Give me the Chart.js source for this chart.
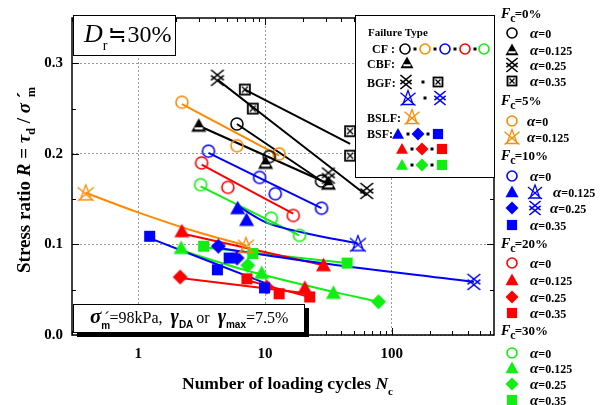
<!DOCTYPE html>
<html>
<head>
<meta charset="UTF-8">
<title>Stress ratio vs number of loading cycles</title>
<script src="https://cdn.jsdelivr.net/npm/chart.js"></script>
<style>
  html, body { margin: 0; padding: 0; background: #fff; }
</style>
</head>
<body>
<canvas id="ratioChart" width="608" height="405"></canvas>
<script>
// tick labels
const xTickVals = [1, 10, 100];
const yTickVals = [0, 0.1, 0.2, 0.3];

// [N_c, stress ratio]; *_fit = fitted curve through them
// Fc = 0%
const fc0_a0 = [[6.0, 0.233], [10.8, 0.197], [27.9, 0.170]];
const fc0_a0_fit = [[6.0, 0.233], [27.9, 0.170]];
const fc0_a125 = [[3.0, 0.231], [10.1, 0.190], [31.6, 0.167]];
const fc0_a125_fit = [[3.0, 0.231], [31.6, 0.167]];
const fc0_a25 = [[4.21, 0.284], [31.6, 0.176], [63.4, 0.159]];
const fc0_a25_fit = [[4.21, 0.282], [63.4, 0.154]];
const fc0_a35 = [[6.93, 0.271], [8.0, 0.250], [46.9, 0.225], [46.9, 0.198]];
const fc0_a35_fit = [[6.93, 0.271], [46.9, 0.211]];
// Fc = 5%
const fc5_a0 = [[2.21, 0.257], [6.01, 0.209], [12.9, 0.200]];
const fc5_a0_fit = [[2.21, 0.255], [12.9, 0.198]];
const fc5_a125 = [[0.385, 0.157], [7.06, 0.099]];
const fc5_a125_fit = [[0.385, 0.157], [0.97, 0.136], [3.2, 0.112], [7.06, 0.099]];
// Fc = 10%
const fc10_a0 = [[3.58, 0.203], [9.06, 0.174], [12.05, 0.156], [27.9, 0.140]];
const fc10_a0_fit = [[3.58, 0.201], [27.9, 0.140]];
const fc10_a125 = [[6.09, 0.140], [7.15, 0.127]];
const fc10_a125_x = [[54, 0.101]];
const fc10_a125_fit = [[6.01, 0.143], [10.3, 0.124], [20.2, 0.113], [54, 0.101]];
const fc10_a25 = [[4.28, 0.098], [6.01, 0.085]];
const fc10_a25_x = [[444, 0.0586]];
const fc10_a25_fit = [[4.28, 0.096], [20.2, 0.082], [444, 0.0586]];
const fc10_a35 = [[1.23, 0.109], [4.21, 0.072], [5.21, 0.085], [9.91, 0.052]];
const fc10_a35_fit = [[1.23, 0.107], [9.91, 0.0575]];
// Fc = 20%
const fc20_a0 = [[3.16, 0.190], [5.09, 0.163], [16.7, 0.132]];
const fc20_a0_fit = [[3.16, 0.188], [16.7, 0.134]];
const fc20_a125 = [[2.21, 0.1145], [20.6, 0.052], [28.9, 0.077]];
const fc20_a125_fit = [[2.21, 0.112], [28.9, 0.077]];
const fc20_a25 = [[2.14, 0.064], [10.3, 0.053]];
const fc20_a25_fit = [[2.14, 0.063], [22.5, 0.0455]];
const fc20_a35 = [[7.19, 0.062], [12.9, 0.0455], [22.5, 0.042]];
const fc20_a35_fit = [[6.93, 0.061], [22.5, 0.042]];
// Fc = 30%
const fc30_a0 = [[3.1, 0.166], [11.2, 0.129], [18.7, 0.110]];
const fc30_a0_fit = [[3.1, 0.164], [18.6, 0.110]];
const fc30_a125 = [[2.18, 0.096], [9.4, 0.0685], [34.6, 0.0465]];
const fc30_a25 = [[7.3, 0.077], [78.6, 0.0367]];
const fc30_a125_fit = [[2.18, 0.0936], [6.93, 0.0717], [34.6, 0.0476], [78.6, 0.0367]];
const fc30_a35 = [[3.28, 0.098], [8.0, 0.090], [44.4, 0.0794]];
const fc30_a35_fit = [[3.28, 0.097], [44.4, 0.0794]];

const K = '#000000', O = '#ff8a00', B = '#0000ff', R = '#ff0000', G = '#11ee11';
const serif = "'Liberation Serif','Times New Roman',serif";
const sans = "'Liberation Sans',Arial,sans-serif";

// draws one marker symbol centred on x,y
function mark(ctx, type, x, y, col, s) {
  const h = s / 2;
  ctx.save();
  ctx.strokeStyle = col;
  ctx.fillStyle = col;
  ctx.lineWidth = 1.6;
  ctx.beginPath();
  if (type === 'circle') {
    ctx.arc(x, y, h - 1, 0, Math.PI * 2);
    ctx.stroke();
  } else if (type === 'tri' || type === 'triW') {
    ctx.moveTo(x, y - h); ctx.lineTo(x + h, y + h * 0.8); ctx.lineTo(x - h, y + h * 0.8);
    ctx.closePath(); ctx.fill();
    if (type === 'triW') {
      ctx.fillStyle = '#fff';
      ctx.fillRect(x - h * 0.55, y + h * 0.2, h * 1.1, h * 0.3);
    }
  } else if (type === 'diamond') {
    ctx.moveTo(x, y - h); ctx.lineTo(x + h, y); ctx.lineTo(x, y + h); ctx.lineTo(x - h, y);
    ctx.closePath(); ctx.fill();
  } else if (type === 'square') {
    ctx.fillRect(x - h * 0.85, y - h * 0.85, h * 1.7, h * 1.7);
  } else if (type === 'triX') {
    ctx.lineWidth = 1.3;
    ctx.moveTo(x, y - h); ctx.lineTo(x + h * 0.7, y + h - 1); ctx.lineTo(x - h * 0.7, y + h - 1); ctx.closePath();
    ctx.moveTo(x - h, y - h * 0.7); ctx.lineTo(x + h, y + h);
    ctx.moveTo(x + h, y - h * 0.7); ctx.lineTo(x - h, y + h);
    ctx.stroke();
  } else if (type === 'dblX') {
    const w = h * 0.8;
    ctx.moveTo(x - w, y - h); ctx.lineTo(x + w, y + h * 0.3);
    ctx.moveTo(x + w, y - h); ctx.lineTo(x - w, y + h * 0.3);
    ctx.moveTo(x - w, y - h * 0.3); ctx.lineTo(x + w, y + h);
    ctx.moveTo(x + w, y - h * 0.3); ctx.lineTo(x - w, y + h);
    ctx.stroke();
  } else if (type === 'boxX') {
    ctx.lineWidth = 1.8;
    ctx.strokeRect(x - h + 1, y - h + 1, s - 2, s - 2);
    ctx.lineWidth = 1.3;
    ctx.moveTo(x - h + 3, y - h + 3); ctx.lineTo(x + h - 3, y + h - 3);
    ctx.moveTo(x + h - 3, y - h + 3); ctx.lineTo(x - h + 3, y + h - 3);
    ctx.stroke();
  }
  ctx.restore();
}

function icon(type, col, s) {
  const c = document.createElement('canvas');
  c.width = c.height = s + 4;
  mark(c.getContext('2d'), type, (s + 4) / 2, (s + 4) / 2, col, s);
  return c;
}

const pts = arr => arr.map(p => ({ x: p[0], y: p[1] }));
const marks = (arr, type, col, s) => ({
  data: pts(arr), showLine: false, pointStyle: icon(type, col, s), pointRadius: s / 2, order: 1
});
const fit = (arr, col) => ({
  data: pts(arr), showLine: true, borderColor: col, borderWidth: 2, pointRadius: 0,
  cubicInterpolationMode: 'monotone', order: 2
});

const datasets = [
  fit(fc0_a0_fit, K), fit(fc0_a125_fit, K), fit(fc0_a25_fit, K), fit(fc0_a35_fit, K),
  fit(fc5_a0_fit, O), fit(fc5_a125_fit, O),
  fit(fc10_a0_fit, B), fit(fc10_a125_fit, B), fit(fc10_a25_fit, B), fit(fc10_a35_fit, B),
  fit(fc20_a0_fit, R), fit(fc20_a125_fit, R), fit(fc20_a25_fit, R), fit(fc20_a35_fit, R),
  fit(fc30_a0_fit, G), fit(fc30_a125_fit, G), fit(fc30_a35_fit, G),
  marks(fc0_a0, 'circle', K, 14), marks(fc0_a125, 'triW', K, 15),
  marks(fc0_a25, 'dblX', K, 16), marks(fc0_a35, 'boxX', K, 12),
  marks(fc5_a0, 'circle', O, 14), marks(fc5_a125, 'triX', O, 16),
  marks(fc10_a0, 'circle', B, 14), marks(fc10_a125, 'tri', B, 15), marks(fc10_a125_x, 'triX', B, 16),
  marks(fc10_a25, 'diamond', B, 15), marks(fc10_a25_x, 'dblX', B, 16), marks(fc10_a35, 'square', B, 13),
  marks(fc20_a0, 'circle', R, 14), marks(fc20_a125, 'tri', R, 15),
  marks(fc20_a25, 'diamond', R, 15), marks(fc20_a35, 'square', R, 13),
  marks(fc30_a0, 'circle', G, 14), marks(fc30_a125, 'tri', G, 15),
  marks(fc30_a25, 'diamond', G, 15), marks(fc30_a35, 'square', G, 13)
];

// draws text pieces side by side, returns end x
function rich(ctx, x, y, segs) {
  segs.forEach(s => {
    ctx.font = s.f;
    ctx.fillText(s.t, x, y + (s.dy || 0));
    x += ctx.measureText(s.t).width + (s.gap || 0);
  });
  return x;
}
function richWidth(ctx, segs) {
  return segs.reduce((w, s) => { ctx.font = s.f; return w + ctx.measureText(s.t).width + (s.gap || 0); }, 0);
}
function dot(ctx, x, y) { ctx.fillStyle = '#000'; ctx.fillRect(x - 1.5, y - 1.5, 3, 3); }

const decor = {
  id: 'decor',
  beforeDraw(chart) {
    const ctx = chart.ctx;
    ctx.save(); ctx.fillStyle = '#fff'; ctx.fillRect(0, 0, chart.width, chart.height); ctx.restore();
  },
  afterDatasetsDraw(chart) {
    const ctx = chart.ctx, a = chart.chartArea, xs = chart.scales.x, ys = chart.scales.y;
    ctx.save();
    ctx.strokeStyle = '#000';
    ctx.lineWidth = 1.5;
    ctx.strokeRect(a.left, a.top, a.right - a.left, a.bottom - a.top);

    // inward ticks on all four sides
    ctx.lineWidth = 1;
    ctx.beginPath();
    for (let e = -1; e <= 2; e++) {
      for (let m = 1; m <= 9; m++) {
        const v = m * Math.pow(10, e);
        if (v < xs.min || v > xs.max) continue;
        const px = Math.round(xs.getPixelForValue(v)) + 0.5, L = m === 1 ? 7 : 4;
        ctx.moveTo(px, a.bottom); ctx.lineTo(px, a.bottom - L);
        ctx.moveTo(px, a.top); ctx.lineTo(px, a.top + L);
      }
    }
    for (let i = 1; i < 7; i++) {
      const py = Math.round(ys.getPixelForValue(i * 0.05)) + 0.5, L = i % 2 === 0 ? 7 : 4;
      ctx.moveTo(a.left, py); ctx.lineTo(a.left + L, py);
      ctx.moveTo(a.right, py); ctx.lineTo(a.right - L, py);
    }
    ctx.stroke();

    ctx.fillStyle = '#000';
    ctx.textBaseline = 'alphabetic';

    // Dr box
    ctx.fillStyle = '#fff'; ctx.fillRect(73, 15, 102, 40);
    ctx.strokeStyle = '#000'; ctx.lineWidth = 1; ctx.strokeRect(73.5, 15.5, 102, 40);
    ctx.fillStyle = '#000';
    rich(ctx, 84, 42, [
      { t: 'D', f: `italic 26px ${serif}` },
      { t: 'r', f: `14px ${serif}`, dy: 8, gap: 1 },
      { t: '≒', f: `22px ${serif}`, gap: 1 },
      { t: '30%', f: `24px ${serif}` }
    ]);

    // sigma box with shadow
    ctx.fillStyle = '#000'; ctx.fillRect(77, 308, 232, 29);
    ctx.fillStyle = '#fff'; ctx.fillRect(73, 304, 232, 29);
    ctx.strokeStyle = '#000'; ctx.strokeRect(73.5, 304.5, 231, 28);
    ctx.fillStyle = '#000';
    rich(ctx, 90, 323, [
      { t: 'σ', f: `italic bold 21px ${serif}` },
      { t: 'm', f: `bold 10px ${sans}`, dy: 6, gap: -6 },
      { t: '´=98kPa,  ', f: `16px ${serif}` },
      { t: 'γ', f: `italic bold 20px ${serif}` },
      { t: 'DA', f: `bold 10px ${sans}`, dy: 5, gap: 3 },
      { t: 'or  ', f: `16px ${serif}` },
      { t: 'γ', f: `italic bold 20px ${serif}` },
      { t: 'max', f: `bold 10px ${sans}`, dy: 5 },
      { t: '=7.5%', f: `16px ${serif}` }
    ]);

    // failure type box
    ctx.fillStyle = '#fff'; ctx.fillRect(355, 15, 140, 163);
    ctx.strokeStyle = '#000'; ctx.strokeRect(355.5, 15.5, 139, 162);
    ctx.fillStyle = '#000';
    ctx.font = `bold 11px ${serif}`;
    ctx.fillText('Failure Type', 368, 36);
    ctx.font = `bold 12px ${serif}`;
    ctx.fillText('CF :', 372, 53);
    ctx.fillText('CBF:', 367, 68);
    ctx.fillText('BGF:', 367, 87);
    ctx.fillText('BSLF:', 367, 122);
    ctx.fillText('BSF:', 367, 138);
    [[405, K], [425, O], [445, B], [465, R], [484, G]].forEach(([x, c], i) => {
      mark(ctx, 'circle', x, 49, c, 12);
      if (i < 4) dot(ctx, x + 10, 49);
    });
    mark(ctx, 'triW', 407, 63, K, 13);
    mark(ctx, 'dblX', 406, 82, K, 14); dot(ctx, 423, 82); mark(ctx, 'boxX', 438, 82, K, 11);
    mark(ctx, 'triX', 408, 98, B, 15); dot(ctx, 425, 98); mark(ctx, 'dblX', 440, 98, B, 14);
    mark(ctx, 'triX', 412, 117, O, 15);
    [[B, 398, 134], [R, 402, 149], [G, 402, 165]].forEach(([c, x0, y]) => {
      mark(ctx, 'tri', x0, y, c, 12); dot(ctx, x0 + 10, y);
      mark(ctx, 'diamond', x0 + 20, y, c, 13); dot(ctx, x0 + 30, y);
      mark(ctx, 'square', x0 + 40, y, c, 12);
    });

    // right legend
    const fcHead = (y, pct) => rich(ctx, 501, y, [
      { t: 'F', f: `italic bold 14px ${serif}` },
      { t: 'c', f: `bold 12px ${serif}`, dy: 4, gap: -1 },
      { t: '=' + pct + '%', f: `bold 13px ${serif}` }
    ]);
    const aLab = (x, y, v) => rich(ctx, x, y + 5, [
      { t: 'α', f: `italic bold 15px ${serif}` },
      { t: '=' + v, f: `bold 12px ${serif}` }
    ]);
    ctx.fillStyle = '#000';
    fcHead(18, '0');
    mark(ctx, 'circle', 512, 33, K, 12); aLab(530, 33, '0');
    mark(ctx, 'triW', 512, 50, K, 13); aLab(530, 50, '0.125');
    mark(ctx, 'dblX', 512, 65, K, 14); aLab(530, 65, '0.25');
    mark(ctx, 'boxX', 512, 81, K, 11); aLab(530, 81, '0.35');
    ctx.fillStyle = '#000';
    fcHead(105, '5');
    mark(ctx, 'circle', 512, 121, O, 12); aLab(527, 121, '0');
    mark(ctx, 'triX', 512, 137, O, 15); aLab(527, 137, '0.125');
    ctx.fillStyle = '#000';
    fcHead(160, '10');
    mark(ctx, 'circle', 512, 176, B, 12); aLab(530, 176, '0');
    mark(ctx, 'tri', 512, 192, B, 13); mark(ctx, 'triX', 535, 192, B, 14); aLab(553, 192, '0.125');
    mark(ctx, 'diamond', 512, 208, B, 13); mark(ctx, 'dblX', 535, 208, B, 14); aLab(550, 208, '0.25');
    mark(ctx, 'square', 512, 225, B, 12); aLab(530, 225, '0.35');
    ctx.fillStyle = '#000';
    fcHead(248, '20');
    mark(ctx, 'circle', 512, 263, R, 12); aLab(530, 263, '0');
    mark(ctx, 'tri', 512, 280, R, 13); aLab(530, 280, '0.125');
    mark(ctx, 'diamond', 512, 297, R, 13); aLab(530, 297, '0.25');
    mark(ctx, 'square', 512, 313, R, 12); aLab(530, 313, '0.35');
    ctx.fillStyle = '#000';
    fcHead(335, '30');
    mark(ctx, 'circle', 512, 353, G, 12); aLab(530, 353, '0');
    mark(ctx, 'tri', 512, 368, G, 13); aLab(530, 368, '0.125');
    mark(ctx, 'diamond', 512, 384, G, 13); aLab(530, 384, '0.25');
    mark(ctx, 'square', 512, 400, G, 12); aLab(530, 400, '0.35');

    // axis titles
    ctx.fillStyle = '#000';
    rich(ctx, 182, 389, [
      { t: 'Number of loading cycles ', f: `bold 17.5px ${serif}` },
      { t: 'N', f: `italic bold 17.5px ${serif}` },
      { t: 'c', f: `bold 11px ${serif}`, dy: 6 }
    ]);
    const yt = [
      { t: 'Stress ratio ', f: `bold 19px ${serif}` },
      { t: 'R', f: `italic bold 19px ${serif}` },
      { t: ' = ', f: `bold 19px ${serif}` },
      { t: 'τ', f: `italic bold 19px ${serif}` },
      { t: 'd', f: `bold 12px ${serif}`, dy: 5 },
      { t: ' / ', f: `bold 19px ${serif}` },
      { t: 'σ', f: `italic bold 19px ${serif}` },
      { t: ' ´', f: `bold 19px ${serif}`, gap: -5 },
      { t: 'm', f: `bold 12px ${serif}`, dy: 5 }
    ];
    const w = richWidth(ctx, yt);
    ctx.translate(30, 180);
    ctx.rotate(-Math.PI / 2);
    rich(ctx, -w / 2, 0, yt);
    ctx.restore();
  }
};

new Chart(document.getElementById('ratioChart'), {
  type: 'scatter',
  data: { datasets },
  options: {
    responsive: false,
    animation: false,
    events: [],
    layout: { padding: { left: 0, top: 15, right: 114, bottom: 0 } },
    plugins: { legend: { display: false }, tooltip: { enabled: false } },
    scales: {
      x: {
        type: 'logarithmic', min: 0.34, max: 640,
        afterBuildTicks: s => { s.ticks = xTickVals.map(v => ({ value: v })); },
        afterFit: s => { s.height = 70; },
        ticks: { callback: v => String(v), color: '#000', padding: 10, maxRotation: 0, autoSkip: false,
                 font: { family: serif, size: 15, weight: 'bold' } },
        grid: { color: '#9a9a9a', lineWidth: 1, drawTicks: false },
        border: { display: false, dash: [2, 2] }
      },
      y: {
        min: 0, max: 0.35,
        afterBuildTicks: s => { s.ticks = yTickVals.map(v => ({ value: v })); },
        afterFit: s => { s.width = 72; },
        ticks: { callback: v => v.toFixed(1), color: '#000', padding: 9,
                 font: { family: serif, size: 15, weight: 'bold' } },
        grid: { color: '#9a9a9a', lineWidth: 1, drawTicks: false },
        border: { display: false, dash: [2, 2] }
      }
    }
  },
  plugins: [decor]
});
</script>
</body>
</html>
